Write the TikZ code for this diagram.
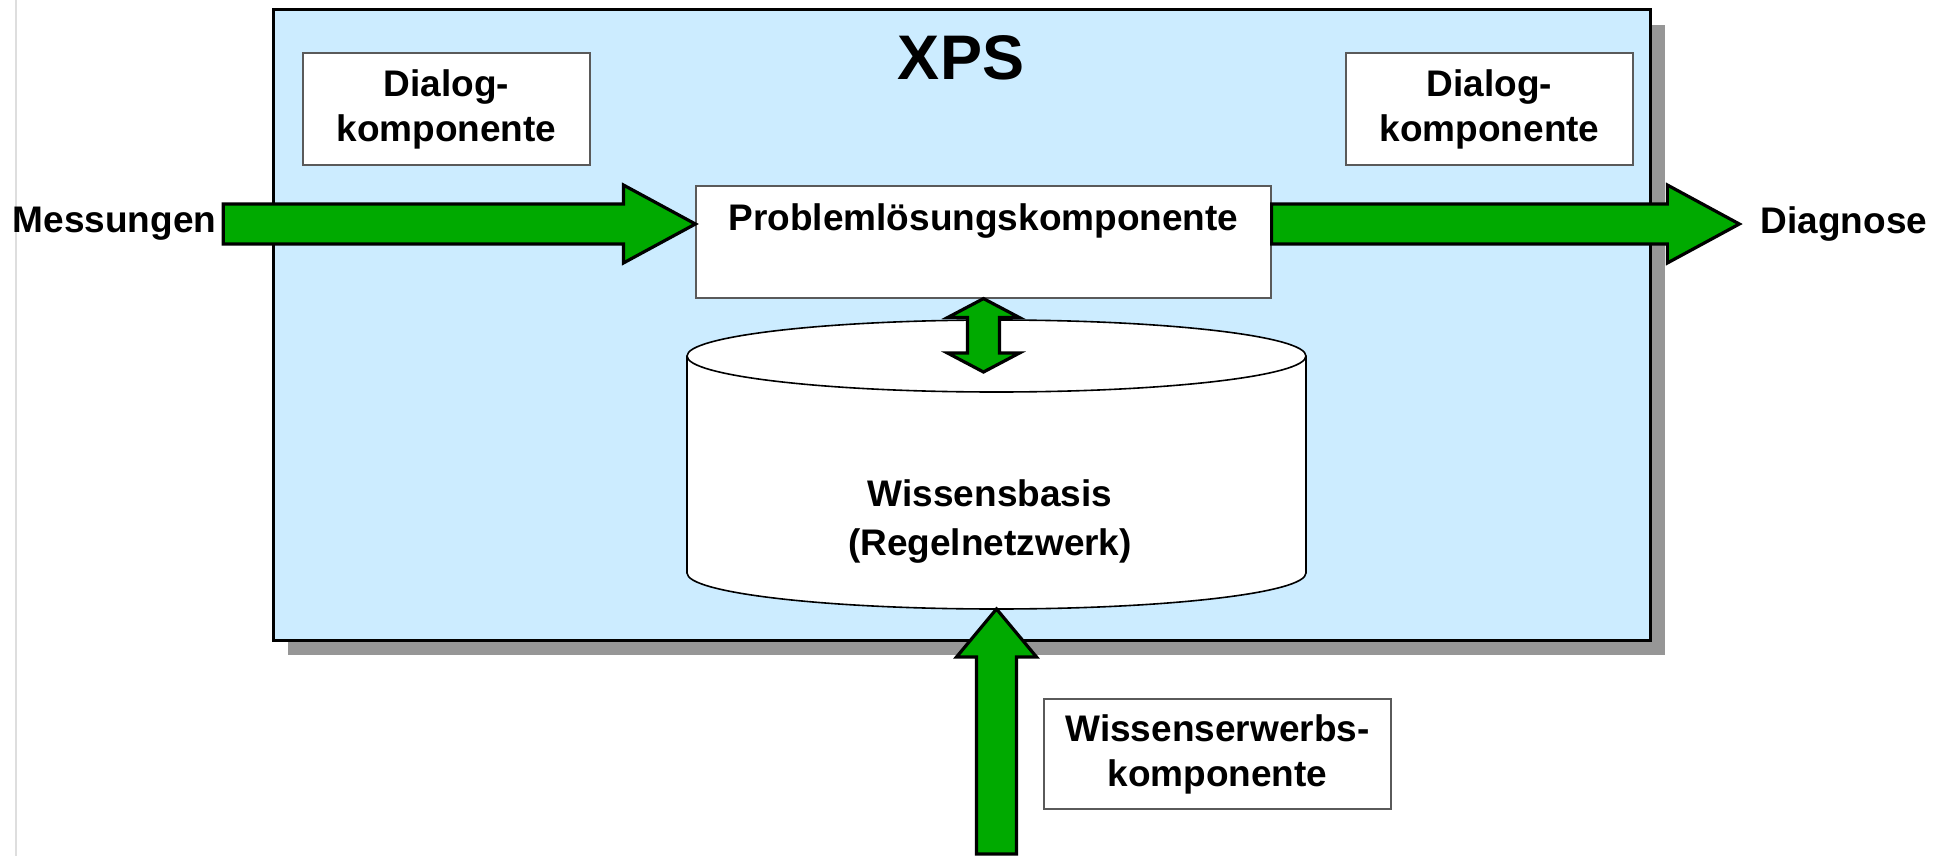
\documentclass[tikz,border=0pt]{standalone}
\usepackage{fontspec}
\setmainfont{Liberation Sans}
\usetikzlibrary{calc,shadows}
\definecolor{xpsblue}{RGB}{204,236,255}
\definecolor{arrowgreen}{RGB}{0,170,0}
\definecolor{shadowgray}{RGB}{150,150,150}
\definecolor{boxgray}{RGB}{90,90,90}
\definecolor{rulegray}{RGB}{222,222,222}

\begin{document}
\begin{tikzpicture}[x=0.5pt,y=-0.5pt,
  every node/.style={font=\bfseries\fontsize{18.5}{22.5}\selectfont},
  xpsbox/.style={draw,line width=1.5pt,fill=xpsblue,minimum width=688.5pt,minimum height=315pt,
    drop shadow={shadow xshift=7.5pt,shadow yshift=-7.5pt,fill=shadowgray,opacity=1}},
  box/.style={draw=boxgray,line width=0.6pt,fill=white,align=center,inner sep=0pt},
  kbshape/.style={draw,line width=0.8pt,fill=white},
  fat arrow/.style n args={3}{draw,line width=1.6pt,fill=arrowgreen,line join=miter,
    /utils/exec={\pgfmathsetmacro\fatjd{veclen(#1,#3)}\pgfmathsetmacro\fatja{atan2(#1,#3)}%
      \pgfmathsetmacro\fathd{veclen(#2,#3)}\pgfmathsetmacro\fatha{atan2(#2,#3)}},
    to path={($(\tikztostart)!#1pt!90:(\tikztotarget)$)
      -- ($(\tikztotarget)!\fatjd pt!-\fatja:(\tikztostart)$)
      -- ($(\tikztotarget)!\fathd pt!-\fatha:(\tikztostart)$)
      -- (\tikztotarget)
      -- ($(\tikztotarget)!\fathd pt!\fatha:(\tikztostart)$)
      -- ($(\tikztotarget)!\fatjd pt!\fatja:(\tikztostart)$)
      -- ($(\tikztostart)!#1pt!-90:(\tikztotarget)$) -- cycle}},
  fat double/.style n args={3}{draw,line width=1.6pt,fill=arrowgreen,line join=miter,
    /utils/exec={\pgfmathsetmacro\fatjd{veclen(#1,#3)}\pgfmathsetmacro\fatja{atan2(#1,#3)}%
      \pgfmathsetmacro\fathd{veclen(#2,#3)}\pgfmathsetmacro\fatha{atan2(#2,#3)}},
    to path={(\tikztostart)
      -- ($(\tikztostart)!\fathd pt!\fatha:(\tikztotarget)$)
      -- ($(\tikztostart)!\fatjd pt!\fatja:(\tikztotarget)$)
      -- ($(\tikztotarget)!\fatjd pt!-\fatja:(\tikztostart)$)
      -- ($(\tikztotarget)!\fathd pt!-\fatha:(\tikztostart)$)
      -- (\tikztotarget)
      -- ($(\tikztotarget)!\fathd pt!\fatha:(\tikztostart)$)
      -- ($(\tikztotarget)!\fatjd pt!\fatja:(\tikztostart)$)
      -- ($(\tikztostart)!\fatjd pt!-\fatja:(\tikztotarget)$)
      -- ($(\tikztostart)!\fathd pt!-\fatha:(\tikztotarget)$) -- cycle}}]
\useasboundingbox (0,0) rectangle (1949,856);
\draw[rulegray,line width=1.2pt] (16,0) -- (16,856);
\node[xpsbox] (xps) at (961.5,325) {};
\node[font=\bfseries\fontsize{31.5}{36}\selectfont] (title) at (961,58) {XPS};
\foreach \x/\n in {446.5/dlgl,1489.5/dlgr}{
  \node[box,minimum width=143.5pt,minimum height=56pt] (\n) at (\x,109) {Dialog-\\komponente};
}
\node[box,minimum width=287.5pt,minimum height=56pt] (prob) at (983.5,242) {};
\node (problabel) at (983.5,221) {Problemlösungskomponente};
% Wissensbasis als Zylinder
\filldraw[kbshape] (687,356) -- (687,573) arc[start angle=180,end angle=0,x radius=309.5,y radius=36] -- (1306,356);
\draw[kbshape] (996.5,356) ellipse [x radius=309.5,y radius=36];
\node[align=center,font=\bfseries\fontsize{18.5}{24.5}\selectfont] (kb) at (990,522) {Wissensbasis\\(Regelnetzwerk)};
\coordinate (kbtop) at (983.5,372);
\coordinate (kbbase) at (996.5,609);
\node[box,minimum width=173.5pt,minimum height=55pt] (erw) at (1217.5,754) {Wissenserwerbs-\\komponente};
\coordinate (erwfoot) at (996.5,854);
\node (mess) at (114.5,224) {Messungen};
\node[inner xsep=10.5pt] (diag) at (1844,224) {Diagnose};
% Pfeile
\draw[fat arrow={10}{19.5}{36}] (mess.east) to (mess.east -| prob.west);
\draw[fat arrow={10}{19.5}{36}] (prob.east |- diag.west) to (diag.west);
\draw[fat double={8}{18}{9.5}] (prob.south) to (kbtop);
\draw[fat arrow={10}{20}{24}] (erwfoot) to (kbbase);
\end{tikzpicture}
\end{document}
